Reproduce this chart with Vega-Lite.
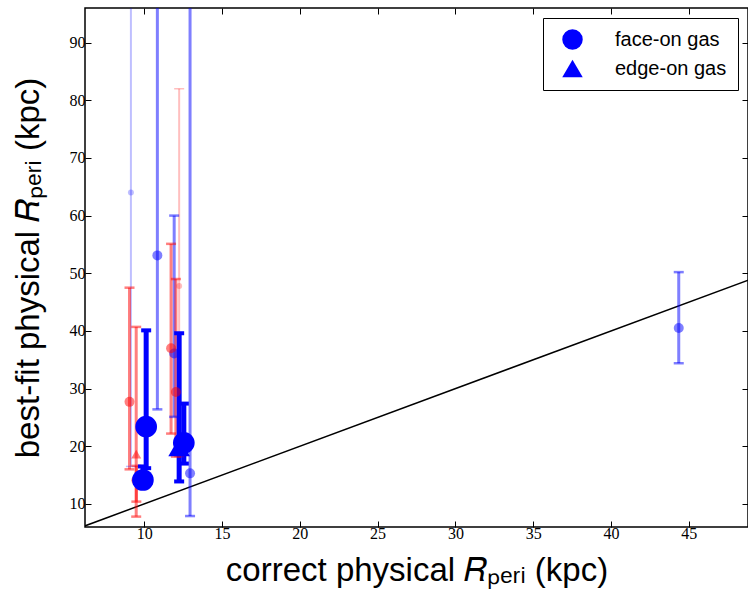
{
  "$schema": "https://vega.github.io/schema/vega-lite/v6.json",
  "width": 663,
  "height": 519,
  "autosize": {"type": "none"},
  "padding": {"left": 85, "top": 8, "right": 0, "bottom": 65},
  "background": "white",
  "config": {
    "view": {"stroke": "black", "strokeWidth": 1.5},
    "axis": {
      "domain": false,
      "grid": false,
      "tickColor": "black",
      "tickWidth": 1,
      "tickSize": -6,
      "labelFont": "Liberation Serif",
      "labelFontSize": 16,
      "labelColor": "black",
      "titleFont": "Liberation Sans",
      "titleFontSize": 33,
      "titleFontWeight": "normal",
      "titleColor": "black"
    }
  },
  "datasets": {
    "fits": [
      {"x": 9.15, "y": 64.0, "lo": 16.5, "hi": 130, "hue": "blue", "tier": 3, "gas": "face-on gas"},
      {"x": 12.25, "y": 47.8, "lo": 18.2, "hi": 82.0, "hue": "red", "tier": 3, "gas": "face-on gas"},
      {"x": 10.85, "y": 53.1, "lo": 26.4, "hi": 130, "hue": "blue", "tier": 2, "gas": "face-on gas"},
      {"x": 12.95, "y": 15.3, "lo": 7.9, "hi": 130, "hue": "blue", "tier": 2, "gas": "face-on gas"},
      {"x": 11.93, "y": 36.1, "lo": 25.1, "hi": 60.0, "hue": "blue", "tier": 2, "gas": "face-on gas"},
      {"x": 11.73, "y": 37.0, "lo": 22.2, "hi": 55.1, "hue": "red", "tier": 2, "gas": "face-on gas"},
      {"x": 12.04, "y": 29.4, "lo": 18.2, "hi": 49.0, "hue": "red", "tier": 2, "gas": "face-on gas"},
      {"x": 9.06, "y": 27.7, "lo": 16.0, "hi": 47.5, "hue": "red", "tier": 2, "gas": "face-on gas"},
      {"x": 9.5, "y": 14.1, "lo": 10.4, "hi": 16.6, "hue": "red", "tier": 2, "gas": "face-on gas"},
      {"x": 9.49, "y": 18.65, "lo": 7.8, "hi": 40.7, "hue": "red", "tier": 2, "gas": "edge-on gas"},
      {"x": 44.35, "y": 40.5, "lo": 34.4, "hi": 50.2, "hue": "blue", "tier": 2, "gas": "face-on gas"},
      {"x": 10.13, "y": 23.4, "lo": 16.2, "hi": 40.1, "hue": "blue", "tier": 1, "gas": "face-on gas"},
      {"x": 9.92, "y": 14.15, "lo": 13.0, "hi": 16.5, "hue": "blue", "tier": 1, "gas": "face-on gas"},
      {"x": 12.25, "y": 19.9, "lo": 13.9, "hi": 39.6, "hue": "blue", "tier": 1, "gas": "edge-on gas"},
      {"x": 12.55, "y": 20.6, "lo": 17.0, "hi": 27.4, "hue": "blue", "tier": 1, "gas": "face-on gas"}
    ]
  },
  "layer": [
    {
      "data": {"values": [{"d": 0}, {"d": 100}]},
      "mark": {"type": "line", "color": "black", "strokeWidth": 1.5, "clip": true},
      "encoding": {
        "x": {"field": "d", "type": "quantitative", "scale": {"domain": [6.2, 48.8], "nice": false, "zero": false},
              "axis": {"orient": "top", "labels": false, "title": null, "values": [10, 15, 20, 25, 30, 35, 40, 45]}},
        "y": {"field": "d", "type": "quantitative", "scale": {"domain": [6, 96], "nice": false, "zero": false},
              "axis": {"orient": "right", "labels": false, "title": null, "values": [10, 20, 30, 40, 50, 60, 70, 80, 90]}}
      }
    },
    {
      "data": {"name": "fits"},
      "mark": {"type": "rule", "clip": true},
      "encoding": {
        "x": {"field": "x", "type": "quantitative",
              "axis": {"orient": "bottom", "title": "correct physical 𝑅ₚₑᵣᵢ (kpc)", "values": [10, 15, 20, 25, 30, 35, 40, 45], "labelPadding": 4, "titlePadding": 13}},
        "y": {"field": "lo", "type": "quantitative",
              "axis": {"orient": "left", "title": "best-fit physical 𝑅ₚₑᵣᵢ (kpc)", "values": [10, 20, 30, 40, 50, 60, 70, 80, 90], "labelPadding": 6, "titlePadding": 24}},
        "y2": {"field": "hi"},
        "color": {"field": "hue", "type": "nominal", "scale": {"domain": ["blue", "red"], "range": ["#0000ff", "#ff0000"]}, "legend": null},
        "opacity": {"field": "tier", "type": "quantitative", "scale": {"type": "threshold", "domain": [1.5, 2.5], "range": [1, 0.5, 0.25]}, "legend": null},
        "size": {"field": "tier", "type": "quantitative", "scale": {"type": "threshold", "domain": [1.5, 2.5], "range": [5, 3, 2]}, "legend": null}
      }
    },
    {
      "data": {"name": "fits"},
      "mark": {"type": "point", "shape": "M-1,0L1,0", "filled": false, "size": 100, "clip": true},
      "encoding": {
        "x": {"field": "x", "type": "quantitative", "axis": null},
        "y": {"field": "lo", "type": "quantitative", "axis": null},
        "color": {"field": "hue", "type": "nominal", "scale": {"domain": ["blue", "red"], "range": ["#0000ff", "#ff0000"]}, "legend": null},
        "opacity": {"field": "tier", "type": "quantitative", "scale": {"type": "threshold", "domain": [1.5, 2.5], "range": [1, 0.5, 0.25]}, "legend": null},
        "strokeWidth": {"field": "tier", "type": "quantitative", "scale": {"type": "threshold", "domain": [1.5, 2.5], "range": [4, 2.5, 1.5]}, "legend": null}
      }
    },
    {
      "data": {"name": "fits"},
      "mark": {"type": "point", "shape": "M-1,0L1,0", "filled": false, "size": 100, "clip": true},
      "encoding": {
        "x": {"field": "x", "type": "quantitative", "axis": null},
        "y": {"field": "hi", "type": "quantitative", "axis": null},
        "color": {"field": "hue", "type": "nominal", "scale": {"domain": ["blue", "red"], "range": ["#0000ff", "#ff0000"]}, "legend": null},
        "opacity": {"field": "tier", "type": "quantitative", "scale": {"type": "threshold", "domain": [1.5, 2.5], "range": [1, 0.5, 0.25]}, "legend": null},
        "strokeWidth": {"field": "tier", "type": "quantitative", "scale": {"type": "threshold", "domain": [1.5, 2.5], "range": [4, 2.5, 1.5]}, "legend": null}
      }
    },
    {
      "data": {"name": "fits"},
      "mark": {"type": "point", "filled": true, "clip": true},
      "encoding": {
        "x": {"field": "x", "type": "quantitative", "axis": null},
        "y": {"field": "y", "type": "quantitative", "axis": null},
        "color": {"field": "hue", "type": "nominal", "scale": {"domain": ["blue", "red"], "range": ["#0000ff", "#ff0000"]}, "legend": null},
        "opacity": {"field": "tier", "type": "quantitative", "scale": {"type": "threshold", "domain": [1.5, 2.5], "range": [1, 0.5, 0.25]}, "legend": null},
        "size": {"field": "tier", "type": "quantitative", "scale": {"type": "threshold", "domain": [1.5, 2.5], "range": [470, 100, 36]}, "legend": null},
        "shape": {"field": "gas", "type": "nominal",
                  "scale": {"domain": ["face-on gas", "edge-on gas"], "range": ["circle", "triangle-up"]},
                  "legend": {"title": null, "orient": "none", "legendX": 458, "legendY": 10,
                             "strokeColor": "black", "fillColor": "white", "padding": 11,
                             "symbolFillColor": "#0000ff", "symbolStrokeColor": "#0000ff", "symbolStrokeWidth": 0,
                             "symbolOpacity": 1, "symbolSize": 420, "symbolOffset": 8,
                             "labelFont": "Liberation Sans", "labelFontSize": 20, "labelColor": "black",
                             "labelOffset": 32, "rowPadding": 8, "labelLimit": 300}}
      }
    }
  ],
  "resolve": {
    "scale": {"x": "shared", "y": "shared", "size": "independent", "opacity": "independent", "strokeWidth": "independent"},
    "axis": {"x": "independent", "y": "independent"}
  }
}
